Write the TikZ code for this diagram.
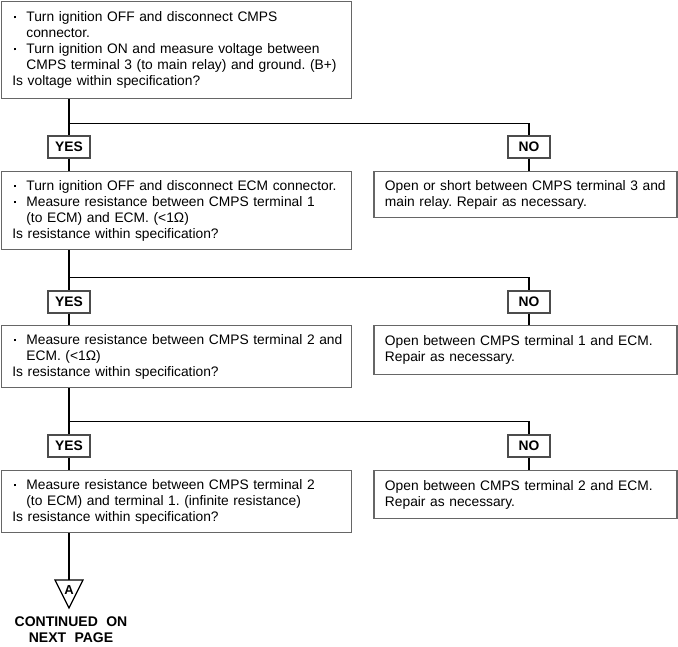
\documentclass[tikz,border=0pt]{standalone}
\usepackage{fontspec}
\setmainfont{Liberation Sans}
\frenchspacing
\newcommand{\bul}{\hspace*{5.5pt}\makebox[12pt][l]{\raisebox{3pt}{\rule{1.8pt}{2.4pt}}}}
\newcommand{\ind}{\hspace*{17.5pt}}
\newcommand{\fst}{\hspace*{3.5pt}}
\begin{document}
\begin{tikzpicture}[x=1pt,y=-1pt,
  box/.style={draw=black!60, line width=1.3pt, align=left, anchor=north west,
    inner ysep=0pt, font=\fontsize{13.8}{16}\selectfont},
  lbox/.style={box, inner xsep=7.5pt, text width=335pt},
  rbox/.style={box, inner xsep=11pt, text width=281pt},
  lab/.style={draw=black!70, line width=1.2pt, font=\bfseries\fontsize{13.8}{15}\selectfont,
    minimum width=42pt, minimum height=22pt, inner sep=0pt},
  conn/.style={line width=1.3pt}]
\useasboundingbox (0,0) rectangle (678,646);

% left column boxes
\node[lbox, minimum height=97pt] (b1) at (0.7,0.7)
  {\bul Turn ignition OFF and disconnect CMPS\\ \ind connector.\\
   \bul Turn ignition ON and measure voltage between\\ \ind CMPS terminal 3 (to main relay) and ground. (B+)\\
   \fst Is voltage within specification?};
\node[lbox, minimum height=78pt] (b2) at (0.7,171)
  {\bul Turn ignition OFF and disconnect ECM connector.\\
   \bul Measure resistance between CMPS terminal 1\\ \ind (to ECM) and ECM. (<1Ω)\\
   \fst Is resistance within specification?};
\node[lbox, minimum height=62pt] (b3) at (0.7,325)
  {\bul Measure resistance between CMPS terminal 2 and\\ \ind ECM. (<1Ω)\\
   \fst Is resistance within specification?};
\node[lbox, minimum height=62pt] (b4) at (0.7,470)
  {\bul Measure resistance between CMPS terminal 2\\ \ind (to ECM) and terminal 1. (infinite resistance)\\
   \fst Is resistance within specification?};

% right column boxes
\node[rbox, minimum height=46pt] (r1) at (373.3,171)
  {Open or short between CMPS terminal 3 and\\ main relay. Repair as necessary.};
\node[rbox, minimum height=49pt] (r2) at (373.3,325)
  {Open between CMPS terminal 1 and ECM.\\ Repair as necessary.};
\node[rbox, minimum height=48pt] (r3) at (373.3,470)
  {Open between CMPS terminal 2 and ECM.\\ Repair as necessary.};

% YES / NO labels
\node[lab] (y1) at (69,147) {YES};
\node[lab] (n1) at (529,147) {NO};
\node[lab] (y2) at (69,302) {YES};
\node[lab] (n2) at (529,302) {NO};
\node[lab] (y3) at (69,446) {YES};
\node[lab] (n3) at (529,446) {NO};

% branch coordinates
\coordinate (j1) at (69,123.5);
\coordinate (j2) at (69,277.5);
\coordinate (j3) at (69,421.5);

% connectors
\draw[conn] (b1.south -| j1) -- (y1.north);
\draw[conn] (y1.south) -- (b2.north -| y1);
\draw[conn] (j1) -| (n1.north);
\draw[conn] (n1.south) -- (r1.north -| n1);

\draw[conn] (b2.south -| j2) -- (y2.north);
\draw[conn] (y2.south) -- (b3.north -| y2);
\draw[conn] (j2) -| (n2.north);
\draw[conn] (n2.south) -- (r2.north -| n2);

\draw[conn] (b3.south -| j3) -- (y3.north);
\draw[conn] (y3.south) -- (b4.north -| y3);
\draw[conn] (j3) -| (n3.north);
\draw[conn] (n3.south) -- (r3.north -| n3);

% off-page connector
\coordinate (t1) at (55,580);
\coordinate (t2) at (83,580);
\coordinate (t3) at (69,608);
\coordinate (ttop) at (69,580);
\draw[line width=1.2pt, line join=miter] (t1) -- (t2) -- (t3) -- cycle;
\node[font=\bfseries\fontsize{13}{13}\selectfont, inner sep=0pt] (A) at (69,590.5) {A};
\draw[conn] (b4.south -| ttop) -- (ttop);
\node[font=\bfseries\fontsize{14}{16}\selectfont, align=center, inner sep=0pt] (cont) at (71,630)
  {CONTINUED\hspace{0.6em}ON\\ NEXT\hspace{0.6em}PAGE};
\end{tikzpicture}
\end{document}
